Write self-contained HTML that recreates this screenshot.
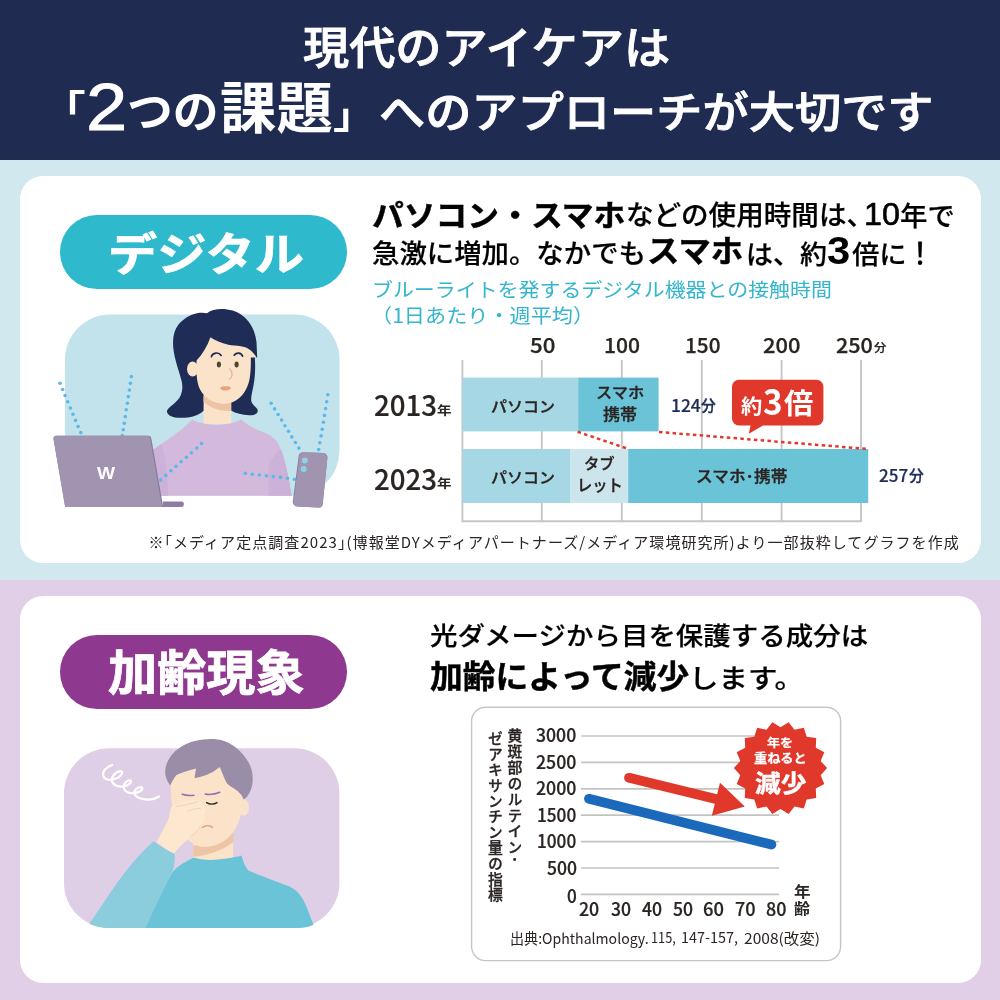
<!DOCTYPE html>
<html lang="ja">
<head>
<meta charset="utf-8">
<title>現代のアイケアは「2つの課題」へのアプローチが大切です</title>
<style>
html,body{margin:0;padding:0;}
body{width:1000px;height:1000px;position:relative;overflow:hidden;background:#fff;font-family:"Liberation Sans","Noto Sans CJK JP",sans-serif;}
.hd{position:absolute;left:0;top:0;width:1000px;height:160px;background:#1f2b50;}
.s1{position:absolute;left:0;top:160px;width:1000px;height:420px;background:#d1e9ee;}
.s2{position:absolute;left:0;top:580px;width:1000px;height:420px;background:#e0cfe6;}
.card{position:absolute;left:20px;width:961px;background:#fff;border-radius:23px;}
.c1{top:16px;height:387px;}
.c2{top:16px;height:387px;}
.pill{position:absolute;left:60px;width:287px;height:74px;border-radius:37px;}
.p1{top:215px;background:#2fb9cd;}
.p2{top:635px;background:#8e398f;}
.g{position:absolute;left:0;top:0;width:1000px;height:1000px;}
.t{position:absolute;white-space:pre;line-height:1;transform-origin:0 0;margin:0;padding:0;}
</style>
</head>
<body>
<div class="hd"></div>
<div class="s1"><div class="card c1"></div></div>
<div class="s2"><div class="card c2"></div></div>
<div class="pill p1"></div>
<div class="pill p2"></div>
<svg class="g" width="1000" height="1000" viewBox="0 0 1000 1000">

<g id="illus1">
 <rect x="65" y="314.5" width="274.5" height="181.2" rx="45" fill="#c3e3ec"/>
 <!-- hair back -->
 <path d="M221.4 309.1C228 309 237 311 243 316C250 321.5 255 330 256.5 342L257.2 357.5L254.8 357.2C255.6 368 255 378 253.4 386C252 393 250.6 398 251.4 401.5C252.5 405.5 257.5 407.5 257.8 410.6C258 413.5 255 415.2 250 415.2C243 415.4 236 413.5 231 410.6L204 410.6C200 414 195 416.6 188 417.4C181 418.2 174 418 170.5 416C167 414 166 411.5 168 409C171 405.5 177.5 402 180.4 396C182.6 391.5 182.8 386 181.6 381C179.5 372 174.5 360 173.3 348C172.3 338 174 330 178.5 324.5C183 319 190 314.5 197 313.2C201 312.4 204.5 312.6 207 313.2C210.5 310.5 216 309.2 221.4 309.1Z" fill="#1f2c56"/>
 <!-- neck -->
 <path d="M203.6 395H231.2V424H203.6Z" fill="#fbe3c9"/>
 <path d="M203.6 396H231.2V410.8C226 411.4 218 410.4 212 407.4C208 405.4 205.4 403.4 203.6 401.4Z" fill="#edc5a5"/>
 <!-- ear -->
 <ellipse cx="192.6" cy="369" rx="5.6" ry="7.4" fill="#fbe3c9"/>
 <!-- face -->
 <path d="M210.4 337.2C207.5 346 202.5 354 196.6 360.5C195.8 368 196.4 377 198 384C200 392 206 398.5 213 401.6C219.5 404.4 227 404.4 233 402C241 398.8 247.5 390 249.6 379C250.8 372 251 364 250.8 357.4L256.6 357.6C252 350 247 347 241 346.2C236.5 345.6 232 345.6 228.4 344.8C221 343 215 340.5 210.4 337.2Z" fill="#fbe3c9"/>
 <!-- eyes -->
 <ellipse cx="218.9" cy="364.5" rx="2.1" ry="2.9" fill="#4b4a2c"/>
 <ellipse cx="236.6" cy="364.5" rx="2.1" ry="2.9" fill="#4b4a2c"/>
 <path d="M211.4 356.6C212.6 352.6 218.6 351.6 221.2 355.4" stroke="#1f2c56" stroke-width="1.7" fill="none" stroke-linecap="round"/>
 <path d="M234.2 355.2C236.6 352 241 352.4 242.6 356.2" stroke="#1f2c56" stroke-width="1.7" fill="none" stroke-linecap="round"/>
 <path d="M229.8 368.6C231.6 371 232.4 373.4 232 375.6C231.6 377.6 230.6 378.8 229.2 379.2" stroke="#e9b899" stroke-width="1.3" fill="none" stroke-linecap="round"/>
 <path d="M220 388.2C221.6 386.6 223.8 386 225.5 386.6C227.4 386 229.6 386.4 231.200 388C229.800 389.800 227.600 390.500 225.400 390.500C223.200 390.500 221.200 389.800 220 388.2Z" fill="#e8a27d"/>
 <!-- sweater -->
 <path d="M150 495.7V452C158 446 172 437 182 429C187 425 190 421.5 192.4 419.6C200 423.6 210 425 217 425C226 425 235 423 241.4 419.6C246 424.6 254 428.6 262 431.6C270 434.6 276.4 439 279.4 446C285 459 289 478 291.6 495.7Z" fill="#d3badd"/>
 <path d="M150 495.7V452C154 449 158 446.4 161 444.4C165 452 167.6 470 168 495.7Z" fill="#ccb1d8"/>
 <path d="M268.6 495.7V466C270 462 272 458 275.6 454.5C280.5 446 281.6 450 283 455C286.6 468 289.6 482 291.6 495.7Z" fill="#ccb1d8"/>
 <!-- dotted lines -->
 <g fill="#5bb8ea"><circle cx="60" cy="383.3" r="1.8"/><circle cx="62.6" cy="389.5" r="1.8"/><circle cx="65.1" cy="395.6" r="1.8"/><circle cx="67.7" cy="401.8" r="1.8"/><circle cx="70.4" cy="408.1" r="1.8"/><circle cx="73" cy="414.2" r="1.8"/><circle cx="75.5" cy="420.4" r="1.8"/><circle cx="78.1" cy="426.5" r="1.8"/><circle cx="80.8" cy="432.6" r="1.8"/><circle cx="131.4" cy="376.6" r="1.8"/><circle cx="130.4" cy="383.3" r="1.8"/><circle cx="129.4" cy="390" r="1.8"/><circle cx="128.3" cy="396.6" r="1.8"/><circle cx="127.4" cy="403.3" r="1.8"/><circle cx="126.2" cy="409.8" r="1.8"/><circle cx="125.3" cy="416.6" r="1.8"/><circle cx="124.3" cy="423.3" r="1.8"/><circle cx="123.2" cy="429.8" r="1.8"/><circle cx="122.2" cy="435.6" r="1.8"/><circle cx="201.6" cy="443.6" r="1.8"/><circle cx="196.8" cy="448.1" r="1.8"/><circle cx="191.5" cy="452.7" r="1.8"/><circle cx="186.4" cy="457.2" r="1.8"/><circle cx="181.1" cy="461.7" r="1.8"/><circle cx="176" cy="466.2" r="1.8"/><circle cx="170.9" cy="470.8" r="1.8"/><circle cx="165.8" cy="475.4" r="1.8"/><circle cx="160.8" cy="479.9" r="1.8"/><circle cx="271.2" cy="403.3" r="1.8"/><circle cx="274.6" cy="408.9" r="1.8"/><circle cx="278.1" cy="414.5" r="1.8"/><circle cx="281.6" cy="420.1" r="1.8"/><circle cx="285" cy="425.7" r="1.8"/><circle cx="288.5" cy="431.3" r="1.8"/><circle cx="291.8" cy="436.9" r="1.8"/><circle cx="295.4" cy="442.5" r="1.8"/><circle cx="298.9" cy="448.1" r="1.8"/><circle cx="327.7" cy="394.8" r="1.8"/><circle cx="326.7" cy="401.7" r="1.8"/><circle cx="325.6" cy="408.6" r="1.8"/><circle cx="324.5" cy="415.4" r="1.8"/><circle cx="323.4" cy="422.3" r="1.8"/><circle cx="322.2" cy="429.2" r="1.8"/><circle cx="321.1" cy="435.9" r="1.8"/><circle cx="319.8" cy="442.8" r="1.8"/><circle cx="318.7" cy="449.5" r="1.8"/><circle cx="245.3" cy="473.4" r="1.8"/><circle cx="252.3" cy="474.2" r="1.8"/><circle cx="259.4" cy="475" r="1.8"/><circle cx="266.4" cy="475.8" r="1.8"/><circle cx="273.4" cy="476.6" r="1.8"/><circle cx="280.5" cy="477.4" r="1.8"/><circle cx="287.5" cy="478.3" r="1.8"/><circle cx="294.4" cy="479.3" r="1.8"/></g>
 <!-- laptop -->
 <path d="M163 501.4H181.6A2.2 2.2 0 0 1 183.8 503.6V504.8A2.2 2.2 0 0 1 181.6 507H163Z" fill="#8d7da5"/>
 <path d="M56.2 435.8H148.4A3 3 0 0 1 151.3 438.2L163.2 506.9H65.2L53.5 438.8A2.6 2.6 0 0 1 56.2 435.8Z" fill="#8a7aa1"/>
 <path d="M56.2 435.8H147.2A3 3 0 0 1 150.1 438.2L161.9 506.9H65.2L53.5 438.8A2.6 2.6 0 0 1 56.2 435.8Z" fill="#a194b1"/>
 <!-- phone -->
 <path d="M303.6 452.2L323.4 452.9A4.4 4.4 0 0 1 327.4 457.6L322.8 503.4A4.6 4.6 0 0 1 318 507.6L297 506.4A4.4 4.4 0 0 1 292.8 501.4L298.6 456.4A4.8 4.8 0 0 1 303.6 452.2Z" fill="#8a7aa1"/>
 <path d="M304.4 452.2L323.4 452.9A4.4 4.4 0 0 1 327.4 457.6L322.8 503.4A4.6 4.6 0 0 1 318 507.6L297.8 506.4A4.4 4.4 0 0 1 293.6 501.4L299.4 456.4A4.8 4.8 0 0 1 304.4 452.2Z" fill="#a194b1"/>
 <circle cx="304.8" cy="460.5" r="3" fill="#8fd1e2"/>
 <circle cx="303.7" cy="468.9" r="3" fill="#8fd1e2"/>
</g>

<g id="chart1">
 <g stroke="#c6c6c6" stroke-width="1.9" fill="none">
  <path d="M462.4 360V521.2H861.7"/>
  <path d="M541.8 360V521M621.8 360V521M701.8 360V521M781.6 360V521M861 360V521"/>
 </g>
 <rect x="462.4" y="377.6" width="116" height="53.8" fill="#a6d7e4"/>
 <rect x="578.2" y="377.6" width="80.4" height="53.8" fill="#6bc3d8"/>
 <rect x="462.4" y="449" width="108" height="54" fill="#a6d7e4"/>
 <rect x="570.2" y="449" width="58.2" height="54" fill="#cce5ed"/>
 <rect x="628.2" y="449" width="240" height="54" fill="#6bc3d8"/>
 <g stroke="#e0382a" stroke-width="2.5" stroke-dasharray="3.5 3.3" fill="none">
  <path d="M577.6 431.8L628.6 449"/>
  <path d="M659 432L868 449"/>
 </g>
 <path d="M739 379.8H816.4a7 7 0 0 1 7 7V418.6a7 7 0 0 1 -7 7H763L748.8 433.8L750.6 425.6H739a7 7 0 0 1 -7 -7V386.8a7 7 0 0 1 7 -7Z" fill="#e0382a"/>
</g>

<g id="illus2">
 <rect x="64" y="748.2" width="275.4" height="179.8" rx="45" fill="#dfcfe6"/>
 <!-- squiggle -->
 <path d="M112 765C106 767.5 102.500 771 103 775C103.500 778.500 108 780.500 112.500 779.500C117 778.500 121.500 776 122 772.800C122.400 770.500 119 770.500 116 772.800C113 775.200 111 778.500 112 781.500C113.500 785.500 119 787.500 124.500 786.200C128.500 785.200 131.500 783 131 781C130.500 779.300 127 780.500 125 783C122.800 786 123.500 790 127 792C131 794.200 137 793.200 140.500 791C142.800 789.500 142.800 787.300 140.800 787.200C138 787.200 134.500 789.500 134.200 792.500C134 795.500 138 798.200 143.500 799.200C149 800.200 155 799 159 796.500" stroke="#fff" stroke-width="2.2" stroke-linecap="round" stroke-linejoin="round" fill="none"/>
 <!-- neck -->
 <path d="M193.200 836H233.100V862H193.200Z" fill="#fbe3c9"/>
 <path d="M193.200 846L233.100 832V842.500C222 850.500 207 855.500 193.200 856.800Z" fill="#edc5a5"/>
 <!-- ear -->
 <ellipse cx="243.800" cy="807.500" rx="5.200" ry="8.200" fill="#fbe3c9"/>
 <!-- face -->
 <path d="M170.800 784C170.500 792 171 800 172.500 808C175 821 181 834 190 841.500C195.500 846 202 847.600 208 846.800C215 845.900 222.500 843 228.500 837.500C234.500 832 238.500 824 240.800 815L243.500 799.500L226 767L196 768.500L176 775Z" fill="#fbe3c9"/>
 <!-- hair -->
 <path d="M210 739.100C217 738.600 226 740.500 233 745.500C241 751 248 759 251 768C254 777 252.500 786 250.600 790.500C248.500 795.500 246 798.500 243.600 799.400C242.500 796 240.500 793.500 237.500 791C233 787.500 228 785.500 226.400 782.500C224 778 222 772.500 219.800 767.100C215 771 211 773.200 207 774.800C203 776.300 198.500 777.500 194.600 778.300C195 775 195.500 771.500 196 768.600C190 770 182 772.500 176.400 775C173.800 778.500 171.800 782 170.200 785.400C167 781.500 165.200 776.500 165.200 772C165.200 765 168.500 758.500 173 753.500C179 747 188 742.500 196 740.800C201 739.700 206 739.300 210 739.100Z" fill="#9a8da7"/>
 <!-- eyebrows / eye / mouth -->
 <path d="M182.200 794.300C186 795.600 190 795.700 194 795.200" stroke="#8d74b0" stroke-width="1.500" stroke-linecap="round" fill="none"/>
 <path d="M205.200 793.900C210 795 215.500 794 219.800 792.200" stroke="#8d74b0" stroke-width="1.500" stroke-linecap="round" fill="none"/>
 <path d="M206.600 802.600C209.500 804.600 214 804.700 217 802.600" stroke="#2b2a25" stroke-width="1.400" stroke-linecap="round" fill="none"/>
 <path d="M202.500 827.300C205.500 825.300 209.500 825.300 212.500 827.300" stroke="#e3997a" stroke-width="1.400" stroke-linecap="round" fill="none"/>
 <!-- body -->
 <path d="M193.600 857.600C200 860 210 860.500 218 859.600C227 858.600 236 857.500 241.600 855.600C243 861 245 867 248.500 870.500C258 875 275 880.500 289.600 886.400C299 891 303.500 899 307 908C309.500 914.500 312 921 313.600 924.500C310 926.500 305 928 298 928H140L172.800 871.500C178 866 186 861.500 193.600 857.600Z" fill="#6bc3d8"/>
 <!-- arm -->
 <path d="M153.400 841.500C160 846 168 850.500 174.600 853.600C175.200 859 174.500 865 172.800 870.500C165 887 154 909 145.600 928H109C101 928 94.500 926.500 89.400 923.800C97 912.500 106 899 115 886C126 870 140 853 153.400 841.500Z" fill="#8bccdd"/>
 <!-- hand -->
 <path d="M156.800 842C160 835 165 826.500 168 820.500C169.200 817 169.600 813 170.400 809.600C171 806.500 173 804.800 175.500 804C182 802 190 800.500 196.400 799.600C199 799.400 200.500 800.500 201.500 802.500C203 805 204.800 807 205.200 809C205.800 812.500 204.800 816 203.800 819.600C203 822.500 201.800 825.500 200.200 828C197.500 832 194.500 834.500 191.800 836.400C189 838.500 186.500 840.500 184.800 842C181 845.500 177 849.500 174.200 853.500C168 851 161.500 846.500 156.800 842Z" fill="#fde7ce"/>
 <path d="M176 806.500C184 805.500 192 803.500 198.400 801.400M187.500 811.500C191 809.500 196 808 200.500 808.500M191 836.500C195.500 833 199 829.500 200.500 826" stroke="#f3d2b4" stroke-width="1" stroke-linecap="round" fill="none"/>
</g>

<g id="chart2">
 <rect x="471.6" y="707.2" width="369" height="253.4" rx="14" fill="#fff" stroke="#c6c6c6" stroke-width="1.4"/>
 <g stroke="#c3c3c3" stroke-width="1.7" fill="none">
  <path d="M581 736H779M581 762.4H779M581 788.8H779M581 815.2H779M581 841.6H779M581 868H779M581 894.4H779"/>
 </g>
 <path d="M589 798.8L771.4 844.6" stroke="#1a69bb" stroke-width="9.8" stroke-linecap="round" fill="none"/>
 <path d="M629 777.8L718 799.4" stroke="#e0382a" stroke-width="9.8" stroke-linecap="round" fill="none"/>
 <path d="M720 782.8L744.8 806.4L711.8 815.8Z" fill="#e0382a"/>
 <polygon points="788.6,722.2 794.5,729.8 803.8,727.7 806.7,736.8 816.2,738.1 815.8,747.7 824.3,752.2 820.7,761.0 827.1,768.1 820.7,775.2 824.3,784.0 815.8,788.5 816.2,798.1 806.7,799.4 803.8,808.5 794.5,806.4 788.6,814.0 780.5,808.9 772.4,814.0 766.5,806.4 757.2,808.5 754.3,799.4 744.8,798.1 745.2,788.5 736.7,784.0 740.3,775.2 733.9,768.1 740.3,761.0 736.7,752.2 745.2,747.7 744.8,738.1 754.3,736.8 757.2,727.7 766.5,729.8 772.4,722.2 780.5,727.3" fill="#e0382a"/>
</g>
</svg>
<span class="t" style="left:303.14px;top:25.60px;font-size:44.79px;font-weight:500;color:#fff;-webkit-text-stroke:0.90px #fff;transform:scale(1.0313,1.0000);">現代のアイケアは</span>
<span class="t" style="left:42.07px;top:90.98px;font-size:37.54px;font-weight:700;color:#fff;transform:scale(1.1624,1.0000);">「</span>
<span class="t" style="left:85.73px;top:74.49px;font-size:66.71px;font-weight:400;color:#fff;-webkit-text-stroke:0.80px #fff;transform:scale(1.1130,1.0000);">2</span>
<span class="t" style="left:127.25px;top:90.47px;font-size:45.70px;font-weight:700;color:#fff;transform:scale(1.0041,1.0000);">つの</span>
<span class="t" style="left:219.91px;top:82.33px;font-size:55.60px;font-weight:700;color:#fff;transform:scale(1.0142,1.0000);">課題</span>
<span class="t" style="left:332.73px;top:98.92px;font-size:36.92px;font-weight:700;color:#fff;transform:scale(1.1490,1.0000);">」</span>
<span class="t" style="left:379.15px;top:91.87px;font-size:43.30px;font-weight:500;color:#fff;-webkit-text-stroke:0.87px #fff;transform:scale(1.0674,1.0000);">へのアプローチが大切です</span>
<span class="t" style="left:107.85px;top:233.35px;font-size:45.15px;font-weight:700;color:#fff;-webkit-text-stroke:0.72px #fff;transform:scale(1.0903,1.0000);">デジタル</span>
<span class="t" style="left:108.31px;top:650.35px;font-size:47.35px;font-weight:700;color:#fff;-webkit-text-stroke:0.76px #fff;transform:scale(1.0385,1.0000);">加齢現象</span>
<span class="t" style="left:371.55px;top:200.50px;font-size:30.00px;font-weight:700;color:#000;-webkit-text-stroke:0.42px #000;transform:scale(1.0595,1.0000);">パソコン・スマホ</span>
<span class="t" style="left:625.89px;top:202.30px;font-size:27.58px;font-weight:500;color:#000;-webkit-text-stroke:0.22px #000;">などの使用時間は、</span>
<span class="t" style="left:863.94px;top:199.67px;font-size:30.96px;font-weight:400;color:#000;-webkit-text-stroke:0.62px #000;transform:scale(1.0426,1.0000);">10</span>
<span class="t" style="left:899.90px;top:202.58px;font-size:27.58px;font-weight:500;color:#000;-webkit-text-stroke:0.22px #000;transform:scale(0.9938,1.0000);">年で</span>
<span class="t" style="left:371.68px;top:241.27px;font-size:26.56px;font-weight:500;color:#000;-webkit-text-stroke:0.21px #000;transform:scale(1.0319,1.0000);">急激に増加。なかでも</span>
<span class="t" style="left:647.43px;top:237.39px;font-size:30.34px;font-weight:700;color:#000;-webkit-text-stroke:0.42px #000;transform:scale(1.0684,1.0000);">スマホ</span>
<span class="t" style="left:745.71px;top:241.90px;font-size:26.32px;font-weight:500;color:#000;-webkit-text-stroke:0.21px #000;transform:scale(1.0240,1.0000);">は、約</span>
<span class="t" style="left:827.46px;top:232.30px;font-size:38.03px;font-weight:700;color:#000;transform:scale(1.0992,1.0000);">3</span>
<span class="t" style="left:852.13px;top:241.90px;font-size:26.60px;font-weight:500;color:#000;-webkit-text-stroke:0.21px #000;transform:scale(1.0291,1.0000);">倍に</span>
<span class="t" style="left:905.89px;top:239.57px;font-size:29.22px;font-weight:500;color:#000;-webkit-text-stroke:0.23px #000;transform:scale(0.9625,1.0000);">！</span>
<span class="t" style="left:372.28px;top:281.19px;font-size:19.47px;font-weight:400;color:#33b6cd;transform:scale(1.0761,1.0000);">ブルーライトを発するデジタル機器との接触時間</span>
<span class="t" style="left:371.39px;top:305.44px;font-size:19.47px;font-weight:400;color:#33b6cd;font-family:'Noto Sans CJK JP',sans-serif;transform:scale(1.0865,1.0000);">（1日あたり・週平均）</span>
<span class="t" style="left:429.98px;top:624.16px;font-size:25.52px;font-weight:500;color:#000;-webkit-text-stroke:0.20px #000;transform:scale(1.0766,1.0000);">光ダメージから目を保護する成分は</span>
<span class="t" style="left:430.47px;top:661.91px;font-size:31.25px;font-weight:700;color:#000;-webkit-text-stroke:0.44px #000;transform:scale(1.0472,1.0000);">加齢によって減少</span>
<span class="t" style="left:688.51px;top:666.45px;font-size:26.14px;font-weight:500;color:#000;-webkit-text-stroke:0.21px #000;transform:scale(1.1289,1.0000);">します。</span>
<span class="t" style="left:529.76px;top:334.29px;font-size:20.54px;font-weight:500;color:#2a2422;font-family:'Noto Sans CJK JP',sans-serif;-webkit-text-stroke:0.25px #2a2422;transform:scale(1.0819,1.0000);">50</span>
<span class="t" style="left:604.31px;top:334.29px;font-size:20.54px;font-weight:500;color:#2a2422;font-family:'Noto Sans CJK JP',sans-serif;-webkit-text-stroke:0.25px #2a2422;transform:scale(1.0288,1.0000);">100</span>
<span class="t" style="left:684.74px;top:334.29px;font-size:20.54px;font-weight:500;color:#2a2422;font-family:'Noto Sans CJK JP',sans-serif;-webkit-text-stroke:0.25px #2a2422;transform:scale(1.0104,1.0000);">150</span>
<span class="t" style="left:762.84px;top:334.29px;font-size:20.54px;font-weight:500;color:#2a2422;font-family:'Noto Sans CJK JP',sans-serif;-webkit-text-stroke:0.25px #2a2422;transform:scale(1.0687,1.0000);">200</span>
<span class="t" style="left:836.35px;top:334.29px;font-size:20.54px;font-weight:500;color:#2a2422;font-family:'Noto Sans CJK JP',sans-serif;-webkit-text-stroke:0.25px #2a2422;transform:scale(1.0509,1.0000);">250</span>
<span class="t" style="left:874.38px;top:343.39px;font-size:11.17px;font-weight:500;color:#2a2422;-webkit-text-stroke:0.25px #2a2422;transform:scale(1.0962,1.0000);">分</span>
<span class="t" style="left:373.69px;top:389.42px;font-size:28.92px;font-weight:500;color:#2a2422;font-family:'Noto Sans CJK JP',sans-serif;-webkit-text-stroke:0.17px #2a2422;transform:scale(0.9569,1.0000);">2013</span>
<span class="t" style="left:437.22px;top:404.92px;font-size:12.00px;font-weight:700;color:#2a2422;transform:scale(1.2138,1.0000);">年</span>
<span class="t" style="left:373.69px;top:462.62px;font-size:28.92px;font-weight:500;color:#2a2422;font-family:'Noto Sans CJK JP',sans-serif;-webkit-text-stroke:0.17px #2a2422;transform:scale(0.9569,1.0000);">2023</span>
<span class="t" style="left:437.22px;top:477.72px;font-size:12.00px;font-weight:700;color:#2a2422;transform:scale(1.2138,1.0000);">年</span>
<span class="t" style="left:490.56px;top:399.25px;font-size:15.06px;font-weight:500;color:#2a2422;-webkit-text-stroke:0.33px #2a2422;transform:scale(1.0627,1.0000);">パソコン</span>
<span class="t" style="left:595.66px;top:386.46px;font-size:14.71px;font-weight:500;color:#2a2422;-webkit-text-stroke:0.32px #2a2422;transform:scale(1.1066,1.0000);">スマホ</span>
<span class="t" style="left:603.03px;top:406.75px;font-size:15.42px;font-weight:500;color:#2a2422;-webkit-text-stroke:0.34px #2a2422;transform:scale(1.1044,1.0000);">携帯</span>
<span class="t" style="left:490.56px;top:469.65px;font-size:15.06px;font-weight:500;color:#2a2422;-webkit-text-stroke:0.33px #2a2422;transform:scale(1.0627,1.0000);">パソコン</span>
<span class="t" style="left:584.28px;top:457.44px;font-size:14.74px;font-weight:500;color:#2a2422;-webkit-text-stroke:0.32px #2a2422;transform:scale(1.0391,1.0000);">タブ</span>
<span class="t" style="left:576.94px;top:477.43px;font-size:16.18px;font-weight:500;color:#2a2422;-webkit-text-stroke:0.36px #2a2422;transform:scale(0.9444,1.0000);">レット</span>
<span class="t" style="left:696.43px;top:467.96px;font-size:16.04px;font-weight:500;color:#2a2422;-webkit-text-stroke:0.35px #2a2422;transform:scale(1.0421,1.0000);">スマホ･携帯</span>
<span class="t" style="left:670.61px;top:396.04px;font-size:17.81px;font-weight:500;color:#1f2c5a;font-family:'Noto Sans CJK JP',sans-serif;-webkit-text-stroke:0.21px #1f2c5a;transform:scale(0.9766,1.0000);">124</span>
<span class="t" style="left:701.35px;top:398.85px;font-size:14.89px;font-weight:500;color:#1f2c5a;-webkit-text-stroke:0.33px #1f2c5a;transform:scale(0.9934,1.0000);">分</span>
<span class="t" style="left:879.49px;top:466.49px;font-size:17.57px;font-weight:500;color:#1f2c5a;font-family:'Noto Sans CJK JP',sans-serif;-webkit-text-stroke:0.21px #1f2c5a;transform:scale(0.9719,1.0000);">257</span>
<span class="t" style="left:909.35px;top:469.25px;font-size:14.89px;font-weight:500;color:#1f2c5a;-webkit-text-stroke:0.33px #1f2c5a;transform:scale(0.9934,1.0000);">分</span>
<span class="t" style="left:741.37px;top:396.80px;font-size:20.43px;font-weight:700;color:#fff;transform:scale(1.0423,1.0000);">約</span>
<span class="t" style="left:763.20px;top:382.06px;font-size:35.47px;font-weight:700;color:#fff;font-family:'Noto Sans CJK JP',sans-serif;transform:scale(0.9361,1.0000);">3</span>
<span class="t" style="left:784.31px;top:389.80px;font-size:28.51px;font-weight:700;color:#fff;transform:scale(1.0303,1.0000);">倍</span>
<span class="t" style="left:148.40px;top:534.43px;font-size:15.00px;font-weight:400;color:#2a2422;font-family:'Noto Sans CJK JP',sans-serif;letter-spacing:1.054px;">※｢メディア定点調査2023｣(博報堂DYメディアパートナーズ/メディア環境研究所)より一部抜粋してグラフを作成</span>
<span class="t" style="left:536.45px;top:725.32px;font-size:18.38px;font-weight:500;color:#2a2422;font-family:'Noto Sans CJK JP',sans-serif;-webkit-text-stroke:0.22px #2a2422;transform:scale(0.9608,1.0000);">3000</span>
<span class="t" style="left:536.27px;top:751.72px;font-size:18.38px;font-weight:500;color:#2a2422;font-family:'Noto Sans CJK JP',sans-serif;-webkit-text-stroke:0.22px #2a2422;transform:scale(0.9651,1.0000);">2500</span>
<span class="t" style="left:536.27px;top:778.12px;font-size:18.38px;font-weight:500;color:#2a2422;font-family:'Noto Sans CJK JP',sans-serif;-webkit-text-stroke:0.22px #2a2422;transform:scale(0.9651,1.0000);">2000</span>
<span class="t" style="left:537.42px;top:804.52px;font-size:18.38px;font-weight:500;color:#2a2422;font-family:'Noto Sans CJK JP',sans-serif;-webkit-text-stroke:0.22px #2a2422;transform:scale(0.9371,1.0000);">1500</span>
<span class="t" style="left:537.42px;top:830.92px;font-size:18.38px;font-weight:500;color:#2a2422;font-family:'Noto Sans CJK JP',sans-serif;-webkit-text-stroke:0.22px #2a2422;transform:scale(0.9371,1.0000);">1000</span>
<span class="t" style="left:546.65px;top:857.92px;font-size:18.38px;font-weight:500;color:#2a2422;font-family:'Noto Sans CJK JP',sans-serif;-webkit-text-stroke:0.22px #2a2422;transform:scale(0.9563,1.0000);">500</span>
<span class="t" style="left:566.91px;top:886.12px;font-size:18.38px;font-weight:500;color:#2a2422;font-family:'Noto Sans CJK JP',sans-serif;-webkit-text-stroke:0.22px #2a2422;transform:scale(0.9328,1.0000);">0</span>
<span class="t" style="left:578.97px;top:898.65px;font-size:18.24px;font-weight:500;color:#2a2422;font-family:'Noto Sans CJK JP',sans-serif;-webkit-text-stroke:0.22px #2a2422;transform:scale(0.9733,1.0000);">20</span>
<span class="t" style="left:610.65px;top:898.65px;font-size:18.24px;font-weight:500;color:#2a2422;font-family:'Noto Sans CJK JP',sans-serif;-webkit-text-stroke:0.22px #2a2422;transform:scale(0.9643,1.0000);">30</span>
<span class="t" style="left:641.62px;top:898.65px;font-size:18.24px;font-weight:500;color:#2a2422;font-family:'Noto Sans CJK JP',sans-serif;-webkit-text-stroke:0.22px #2a2422;transform:scale(0.9655,1.0000);">40</span>
<span class="t" style="left:672.65px;top:898.65px;font-size:18.24px;font-weight:500;color:#2a2422;font-family:'Noto Sans CJK JP',sans-serif;-webkit-text-stroke:0.22px #2a2422;transform:scale(0.9643,1.0000);">50</span>
<span class="t" style="left:703.28px;top:898.65px;font-size:18.24px;font-weight:500;color:#2a2422;font-family:'Noto Sans CJK JP',sans-serif;-webkit-text-stroke:0.22px #2a2422;transform:scale(1.0075,1.0000);">60</span>
<span class="t" style="left:734.58px;top:898.65px;font-size:18.24px;font-weight:500;color:#2a2422;font-family:'Noto Sans CJK JP',sans-serif;-webkit-text-stroke:0.22px #2a2422;transform:scale(0.9929,1.0000);">70</span>
<span class="t" style="left:766.18px;top:898.65px;font-size:18.24px;font-weight:500;color:#2a2422;font-family:'Noto Sans CJK JP',sans-serif;-webkit-text-stroke:0.22px #2a2422;transform:scale(0.9825,1.0000);">80</span>
<span class="t" style="left:793.94px;top:884.55px;font-size:14.84px;font-weight:700;color:#2a2422;transform:scale(1.1132,1.0000);">年</span>
<span class="t" style="left:794.12px;top:902.30px;font-size:14.84px;font-weight:700;color:#2a2422;transform:scale(1.0780,1.0000);">齢</span>
<span class="t" style="left:505.72px;top:727.50px;font-size:14.80px;font-weight:500;color:#2a2422;writing-mode:vertical-rl;letter-spacing:1.165px;-webkit-text-stroke:0.33px #2a2422;">黄斑部のルテイン･</span>
<span class="t" style="left:486.12px;top:731.16px;font-size:14.80px;font-weight:500;color:#2a2422;writing-mode:vertical-rl;letter-spacing:0.834px;-webkit-text-stroke:0.33px #2a2422;">ゼアキサンチン量の指標</span>
<span class="t" style="left:509.65px;top:930.57px;font-size:14.50px;font-weight:400;color:#2a2422;font-family:'Noto Sans CJK JP',sans-serif;transform:scale(0.9709,1.0000);">出典:Ophthalmology.</span>
<span class="t" style="left:651.45px;top:930.06px;font-size:14.50px;font-weight:400;color:#2a2422;font-family:'Noto Sans CJK JP',sans-serif;transform:scale(0.8812,1.0000);">115,</span>
<span class="t" style="left:681.00px;top:929.99px;font-size:14.50px;font-weight:400;color:#2a2422;font-family:'Noto Sans CJK JP',sans-serif;transform:scale(0.9938,1.0000);">147-157,</span>
<span class="t" style="left:743.58px;top:930.93px;font-size:14.50px;font-weight:400;color:#2a2422;font-family:'Noto Sans CJK JP',sans-serif;transform:scale(1.0722,1.0000);">2008(改変)</span>
<span class="t" style="left:767.21px;top:737.83px;font-size:11.55px;font-weight:700;color:#fff;-webkit-text-stroke:0.23px #fff;transform:scale(1.1333,1.0000);">年を</span>
<span class="t" style="left:754.27px;top:753.12px;font-size:12.37px;font-weight:700;color:#fff;-webkit-text-stroke:0.25px #fff;transform:scale(1.0670,1.0000);">重ねると</span>
<span class="t" style="left:754.79px;top:772.04px;font-size:24.33px;font-weight:700;color:#fff;-webkit-text-stroke:0.49px #fff;transform:scale(1.0557,1.0000);">減少</span>
<span class="t" style="left:97.30px;top:465.66px;font-size:16.52px;font-weight:700;color:#fff;transform:scale(1.1590,1.0000);">W</span>
</body>
</html>
